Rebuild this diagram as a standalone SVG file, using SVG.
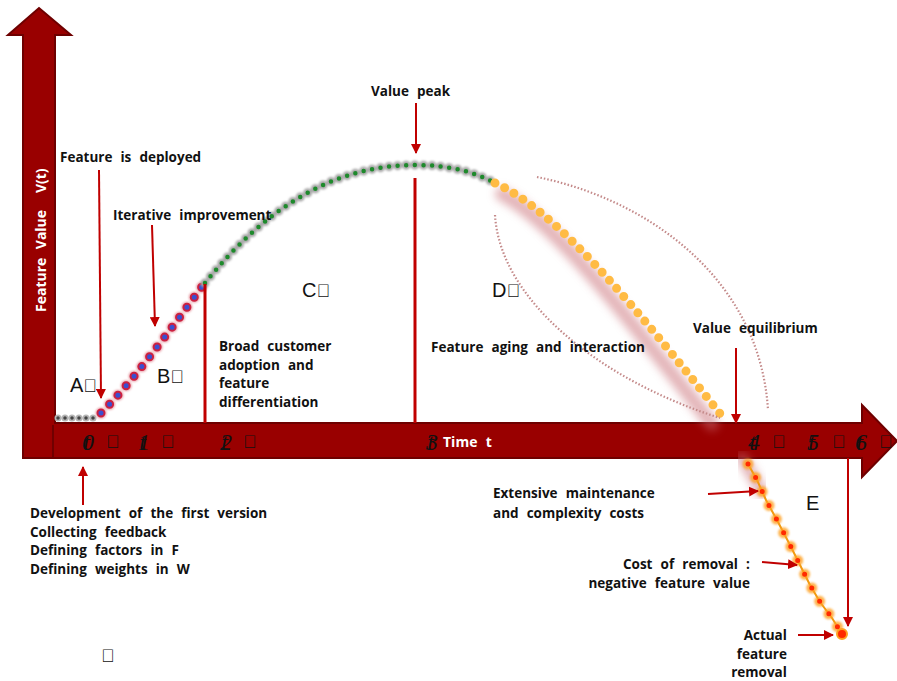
<svg xmlns="http://www.w3.org/2000/svg" width="897" height="681" viewBox="0 0 897 681">
<style>
.lbl{font-family:"Open Sans","Noto Sans",sans-serif;font-weight:bold;font-size:13.5px;fill:#111}
.big{font-family:"Liberation Sans",Arial,sans-serif;font-size:20px;fill:#111}
.tk{font-family:"Liberation Serif","Times New Roman",serif;font-style:italic;font-size:24px;fill:#111}
.bx{font-family:"Liberation Sans",sans-serif;font-style:normal;font-size:18px;fill:#111}
.wt{font-family:"Open Sans","Noto Sans",sans-serif;font-weight:bold;font-size:14px;fill:#fff}
.arr{stroke:#c00000;stroke-width:2;fill:none}
.vl{stroke:#c00000;stroke-width:3}
.dotarc{fill:none;stroke:#c48a8a;stroke-width:2.2;stroke-dasharray:1.5 2}
</style>
<defs>
<marker id="ah2" viewBox="0 0 10 10" refX="9" refY="5" markerWidth="10" markerHeight="10" orient="auto" markerUnits="userSpaceOnUse">
<path d="M0,0 L10,5 L0,10 z" fill="#c00000"/>
</marker>
<filter id="blur" x="-20%" y="-20%" width="140%" height="140%"><feGaussianBlur stdDeviation="4"/></filter>
<filter id="blur2" x="-20%" y="-20%" width="140%" height="140%"><feGaussianBlur stdDeviation="1.2"/></filter>
</defs>
<rect width="897" height="681" fill="#fff"/>

<g id="axes">
<path d="M23,458 L23,35 L8,35 L39,8 L71,35 L55,35 L55,423 L862,423 L862,405 L897,441 L862,477 L862,458 Z" fill="#990000" stroke="#6e0000" stroke-width="2"/>
<line x1="53" y1="425" x2="53" y2="457" stroke="#700000" stroke-width="2"/>
<text class="wt" transform="translate(46,236) rotate(-90)" text-anchor="middle" font-size="17">Feature&#xF020;Value&#xF020;&#xF020;V(t)&#xF020;</text>
</g>

<g id="ticks">
<text class="tk" x="82" y="450" dx="0 -8">t0</text><text class="bx" x="106" y="448">&#xF020;</text>
<text class="tk" x="138" y="450" dx="0 -8">t1</text><text class="bx" x="161" y="448">&#xF020;</text>
<text class="tk" x="220" y="450" dx="0 -8">t2</text><text class="bx" x="243" y="448">&#xF020;</text>
<text class="tk" x="426" y="450" dx="0 -8">t3</text>
<text class="wt" x="443" y="447">Time&#xF020;t&#xF020;</text>
<text class="tk" x="748" y="450" dx="0 -8">t4</text><text class="bx" x="772" y="448">&#xF020;</text>
<text class="tk" x="807" y="450" dx="0 -8">t5</text><text class="bx" x="832" y="448">&#xF020;</text>
<text class="tk" x="855" y="450" dx="0 -8">t6</text><text class="bx" x="879" y="448">&#xF020;</text>
</g>

<g id="curve">
<path d="M58,418 L98,418" stroke="#b5b5b5" stroke-width="7" stroke-linecap="round" stroke-dasharray="0 7" fill="none"/>
<path d="M58,418 L98,418" stroke="#444" stroke-width="3.5" stroke-linecap="round" stroke-dasharray="0 7" fill="none"/>
<path d="M101,413 C130,385 168,333 204,284" stroke="#e8a0a8" stroke-width="11" stroke-linecap="round" stroke-dasharray="0 12.4" fill="none" filter="url(#blur2)"/>
<path d="M101,413 C130,385 168,333 204,284" stroke="#cc2040" stroke-width="9" stroke-linecap="round" stroke-dasharray="0 12.4" fill="none"/>
<path d="M101,413 C130,385 168,333 204,284" stroke="#3a4fd0" stroke-width="5" stroke-linecap="round" stroke-dasharray="0 12.4" fill="none"/>
<path d="M205,283 C262,212 330,165 415,165 C452,165 476,173 495,183" stroke="#a8a8a8" stroke-width="9" stroke-linecap="round" stroke-dasharray="0 8.6" fill="none" filter="url(#blur2)"/>
<path d="M205,283 C262,212 330,165 415,165 C452,165 476,173 495,183" stroke="#1e8a2c" stroke-width="4.5" stroke-linecap="round" stroke-dasharray="0 8.6" fill="none"/>
<path d="M502,194 C555,222 622,310 712,424" stroke="#c86a72" stroke-width="14" stroke-linecap="round" fill="none" opacity="0.5" filter="url(#blur)"/>
<path d="M495,183 C555,210 630,300 725,420" stroke="#ffbb44" stroke-width="9" stroke-linecap="round" stroke-dasharray="0 10.8" fill="none"/>
<path d="M742,458 L752,475 L762,492" stroke="#c86a72" stroke-width="12" stroke-linecap="round" fill="none" opacity="0.5" filter="url(#blur)"/>
<path d="M748,464 L757,480 L766,500 L778,522 L790,545 L800,565 L810,585 L820,602 L832,618 L842,634" stroke="#f09a10" stroke-width="2" fill="none"/>
<path d="M748,464 L757,480 L766,500 L778,522 L790,545 L800,565 L810,585 L820,602 L832,618 L842,634" stroke="#ffa020" stroke-width="11" stroke-linecap="round" stroke-dasharray="0 15.5" fill="none" opacity="0.8" filter="url(#blur2)"/>
<path d="M748,464 L757,480 L766,500 L778,522 L790,545 L800,565 L810,585 L820,602 L832,618 L842,634" stroke="#ff2a00" stroke-width="5" stroke-linecap="round" stroke-dasharray="0 15.5" fill="none"/>
<circle cx="842" cy="634" r="5" fill="#ff2a00" stroke="#ffa020" stroke-width="2"/>
<path class="dotarc" d="M537,177 C650,200 760,280 768,410"/>
<path class="dotarc" d="M495,215 C500,300 600,380 720,418"/>
</g>

<g id="phase-lines">
<line class="vl" x1="205" y1="284" x2="205" y2="423"/>
<line class="vl" x1="415" y1="178" x2="415" y2="423"/>
</g>

<g id="connectors">
<path class="arr" d="M99,170 L101,398" marker-end="url(#ah2)"/>
<path class="arr" d="M152,225 L155,326" marker-end="url(#ah2)"/>
<path class="arr" d="M416,103 L416,153" marker-end="url(#ah2)"/>
<path class="arr" d="M736,348 L736,423" marker-end="url(#ah2)"/>
<path class="arr" d="M83,505 L83,467" marker-end="url(#ah2)"/>
<path class="arr" d="M708,494 L758,491" marker-end="url(#ah2)"/>
<path class="arr" d="M762,562 L797,565" marker-end="url(#ah2)"/>
<path class="arr" d="M798,635 L833,635" marker-end="url(#ah2)"/>
<path class="arr" d="M848,458 L848,626" marker-end="url(#ah2)"/>
</g>

<g id="label-A"><text class="big" x="70" y="392">A<tspan class="bx">&#xF020;</tspan></text></g>
<g id="label-B"><text class="big" x="157" y="383">B<tspan class="bx">&#xF020;</tspan></text></g>
<g id="label-C"><text class="big" x="302" y="297">C<tspan class="bx">&#xF020;</tspan></text></g>
<g id="label-D"><text class="big" x="492" y="297">D<tspan class="bx">&#xF020;</tspan></text></g>
<g id="label-E"><text class="big" x="806" y="510">E</text></g>

<g id="value-peak"><text class="lbl" x="371" y="96">Value&#xF020;peak&#xF020;</text></g>
<g id="feature-deployed"><text class="lbl" x="60" y="162">Feature&#xF020;is&#xF020;deployed&#xF020;</text></g>
<g id="iterative"><text class="lbl" x="113" y="220">Iterative&#xF020;improvement&#xF020;</text></g>
<g id="broad">
<text class="lbl" x="219" y="351">Broad&#xF020;customer&#xF020;</text>
<text class="lbl" x="219" y="369.5">adoption&#xF020;and&#xF020;</text>
<text class="lbl" x="219" y="388">feature&#xF020;</text>
<text class="lbl" x="219" y="406.5">differentiation&#xF020;</text>
</g>
<g id="aging"><text class="lbl" x="431" y="352">Feature&#xF020;aging&#xF020;and&#xF020;interaction&#xF020;</text></g>
<g id="equilibrium"><text class="lbl" x="693" y="333">Value&#xF020;equilibrium&#xF020;</text></g>
<g id="development">
<text class="lbl" x="30" y="518">Development&#xF020;of&#xF020;the&#xF020;first&#xF020;version&#xF020;</text>
<text class="lbl" x="30" y="536.5">Collecting&#xF020;feedback&#xF020;</text>
<text class="lbl" x="30" y="555">Defining&#xF020;factors&#xF020;in&#xF020;F&#xF020;</text>
<text class="lbl" x="30" y="573.5">Defining&#xF020;weights&#xF020;in&#xF020;W&#xF020;</text>
</g>
<g id="maintenance">
<text class="lbl" x="493" y="498">Extensive&#xF020;maintenance&#xF020;</text>
<text class="lbl" x="493" y="518">and&#xF020;complexity&#xF020;costs&#xF020;</text>
</g>
<g id="removal-cost">
<text class="lbl" x="758" y="569" text-anchor="end">Cost&#xF020;of&#xF020;removal&#xF020;:&#xF020;</text>
<text class="lbl" x="758" y="587.5" text-anchor="end">negative&#xF020;feature&#xF020;value&#xF020;</text>
</g>
<g id="actual-removal">
<text class="lbl" x="795" y="640" text-anchor="end">Actual&#xF020;</text>
<text class="lbl" x="795" y="658.5" text-anchor="end">feature&#xF020;</text>
<text class="lbl" x="795" y="677" text-anchor="end">removal&#xF020;</text>
</g>
<g id="empty-note"><text class="bx" x="101" y="662">&#xF020;</text></g>
</svg>
